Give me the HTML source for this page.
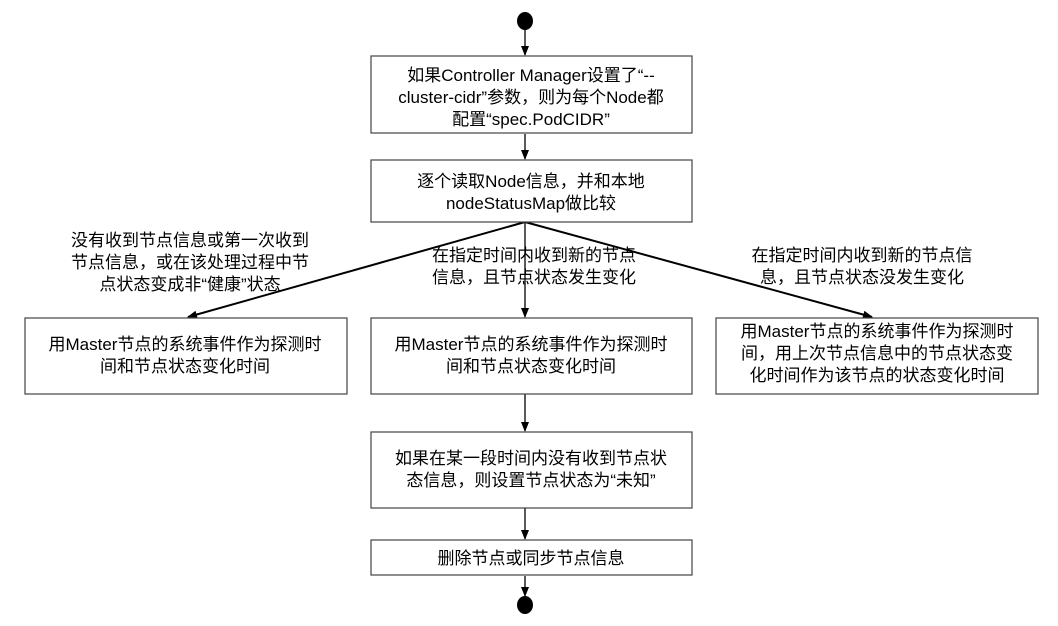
<!DOCTYPE html>
<html><head><meta charset="utf-8"><style>
body{margin:0;background:#fff;}
svg text{font-family:"Liberation Sans","Noto Sans CJK SC",sans-serif;font-size:17px;fill:#000;}
</style></head><body>
<svg width="1058" height="621" xmlns="http://www.w3.org/2000/svg">
<defs><marker id="a" markerWidth="10" markerHeight="8" refX="9" refY="4" orient="auto" markerUnits="userSpaceOnUse"><path d="M0,0 L10,4 L0,8 Z" fill="#000"/></marker></defs>
<g stroke="#000" stroke-width="1.3" fill="none">
<line x1="525" y1="28" x2="525" y2="55" marker-end="url(#a)"/>
<line x1="525" y1="134" x2="525" y2="159" marker-end="url(#a)"/>
<line x1="525" y1="222" x2="525" y2="317" marker-end="url(#a)"/>
<line x1="525" y1="222" x2="188" y2="317" stroke-width="2" marker-end="url(#a)"/>
<line x1="525" y1="222" x2="872" y2="317" stroke-width="2" marker-end="url(#a)"/>
<line x1="525" y1="394" x2="525" y2="431" marker-end="url(#a)"/>
<line x1="525" y1="508" x2="525" y2="539" marker-end="url(#a)"/>
<line x1="525" y1="576" x2="525" y2="596" marker-end="url(#a)"/>
</g>
<ellipse cx="525" cy="21" rx="8" ry="9" fill="#000"/>
<ellipse cx="525" cy="605" rx="8" ry="9" fill="#000"/>
<g fill="#fff" stroke="#444" stroke-width="1.2">
<rect x="371" y="56" width="321" height="77"/>
<rect x="371" y="160" width="321" height="62"/>
<rect x="25" y="318" width="322" height="76"/>
<rect x="371" y="318" width="321" height="76"/>
<rect x="716" y="318" width="322" height="76"/>
<rect x="371" y="432" width="321" height="76"/>
<rect x="371" y="540" width="321" height="35"/>
</g>
<g text-anchor="middle">
<text x="531" y="81">如果Controller Manager设置了“--</text>
<text x="531" y="103">cluster-cidr”参数，则为每个Node都</text>
<text x="531" y="125">配置“spec.PodCIDR”</text>
<text x="531" y="187">逐个读取Node信息，并和本地</text>
<text x="531" y="209">nodeStatusMap做比较</text>
<text x="190" y="246">没有收到节点信息或第一次收到</text>
<text x="190" y="268">节点信息，或在该处理过程中节</text>
<text x="190" y="290">点状态变成非“健康”状态</text>
<text x="862" y="261">在指定时间内收到新的节点信</text>
<text x="862" y="283">息，且节点状态没发生变化</text>
<text x="185" y="350">用Master节点的系统事件作为探测时</text>
<text x="185" y="372">间和节点状态变化时间</text>
<text x="531" y="350">用Master节点的系统事件作为探测时</text>
<text x="531" y="372">间和节点状态变化时间</text>
<text x="877" y="337">用Master节点的系统事件作为探测时</text>
<text x="877" y="359">间，用上次节点信息中的节点状态变</text>
<text x="877" y="381">化时间作为该节点的状态变化时间</text>
<text x="531" y="464">如果在某一段时间内没有收到节点状</text>
<text x="531" y="486">态信息，则设置节点状态为“未知”</text>
<text x="531" y="564">删除节点或同步节点信息</text>
</g>
<text x="432" y="261">在指定时间内收到新的节点</text>
<text x="432" y="283">信息，且节点状态发生变化</text>
</svg>
</body></html>
